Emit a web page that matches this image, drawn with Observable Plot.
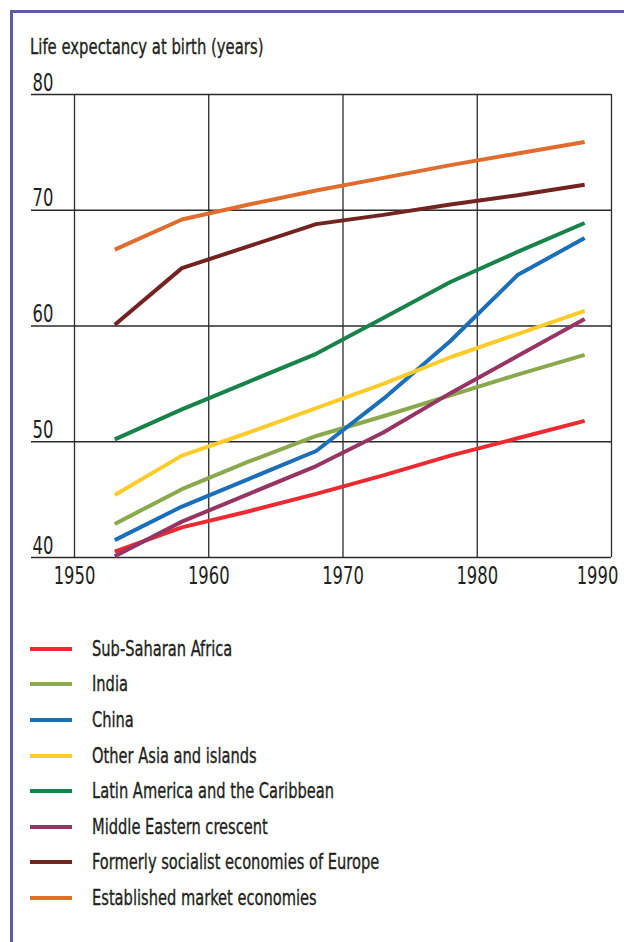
<!DOCTYPE html>
<html><head><meta charset="utf-8">
<script src="https://cdn.jsdelivr.net/npm/d3@7"></script>
<script src="https://cdn.jsdelivr.net/npm/@observablehq/plot@0.6"></script>
<style>
body{margin:0;background:#fff;}
#page{position:relative;width:624px;height:942px;overflow:hidden;font-family:"Liberation Sans Narrow","DejaVu Sans Condensed",sans-serif;color:#231f20;}
#frame{position:absolute;left:10px;top:10px;right:-5px;bottom:-5px;border-top:3px solid #5b5ba9;border-left:3px solid #5b5ba9;}
#title{position:absolute;left:30px;top:34px;font-size:22px;line-height:26px;white-space:nowrap;transform:scaleX(0.75);transform-origin:left center;-webkit-text-stroke:0.35px #231f20;}
#chart{position:absolute;left:0;top:60px;}
#legend{position:absolute;left:30px;top:631px;}
.row{display:flex;align-items:center;height:35.6px;}
.sw{width:42px;height:4px;margin-right:20px;flex:none;}
.lab{font-size:22px;line-height:26px;white-space:nowrap;transform:scaleX(0.74);transform-origin:left center;-webkit-text-stroke:0.35px #231f20;}
</style>
</head><body>
<div id="page">
  <div id="frame"></div>
  <div id="title">Life expectancy at birth (years)</div>
  <div id="chart"></div>
  <div id="legend"></div>
</div>
<script>
const years = [1953, 1958, 1963, 1968, 1973, 1978, 1983, 1988];
const seriesNames = [
  "Sub-Saharan Africa",
  "India",
  "China",
  "Other Asia and islands",
  "Latin America and the Caribbean",
  "Middle Eastern crescent",
  "Formerly socialist economies of Europe",
  "Established market economies"
];
const seriesColors = ["#ed2a2f", "#8aa84c", "#1a6fb8", "#fdcb2a", "#17834a", "#963464", "#732421", "#e06c2e"];
const subSaharanAfrica = [40.5, 42.6, 44.0, 45.5, 47.1, 48.8, 50.3, 51.8];
const india = [42.9, 45.9, 48.3, 50.5, 52.2, 54.0, 55.8, 57.5];
const china = [41.5, 44.4, 46.8, 49.2, 53.7, 58.7, 64.4, 67.6];
const otherAsia = [45.4, 48.8, 50.8, 52.9, 55.0, 57.3, 59.3, 61.3];
const latinAmerica = [50.2, 52.8, 55.2, 57.6, 60.7, 63.8, 66.4, 68.9];
const middleEast = [40.1, 43.1, 45.5, 47.9, 50.8, 54.2, 57.4, 60.6];
const formerSocialist = [60.1, 65.0, 66.9, 68.8, 69.6, 70.5, 71.3, 72.2];
const establishedMarket = [66.6, 69.2, 70.5, 71.7, 72.8, 73.9, 74.9, 75.9];
const xTicks = [1950, 1960, 1970, 1980, 1990];
const yTicks = [40, 50, 60, 70, 80];

const seriesValues = [subSaharanAfrica, india, china, otherAsia, latinAmerica, middleEast, formerSocialist, establishedMarket];
const rows = [];
seriesNames.forEach((name, i) => {
  years.forEach((yr, j) => rows.push({series: name, year: yr, value: seriesValues[i][j]}));
});

const font = '"Liberation Sans Narrow","DejaVu Sans Condensed",sans-serif';
const lastTick = xTicks[xTicks.length - 1];
const textStyle = {fontSize: 24, label: null, fill: "#231f20", stroke: "#231f20", strokeWidth: 0.4};
const chart = Plot.plot({
  width: 624,
  height: 540,
  marginTop: 34,
  marginBottom: 43,
  marginLeft: 74,
  marginRight: 13,
  style: {fontFamily: font, color: "#231f20", background: "transparent", overflow: "visible"},
  x: {domain: [1950, 1990]},
  y: {domain: [40, 80]},
  color: {domain: seriesNames, range: seriesColors},
  marks: [
    Plot.ruleX(xTicks, {stroke: "#2a2a2a", strokeWidth: 1.3}),
    Plot.ruleY(yTicks, {stroke: "#2a2a2a", strokeWidth: 1.6, insetLeft: -43}),
    Plot.axisX(xTicks.filter(d => d !== lastTick), {...textStyle, tickSize: 0, tickPadding: 9, tickFormat: d => String(d)}),
    Plot.axisX([lastTick], {...textStyle, tickSize: 0, tickPadding: 9, tickFormat: d => String(d), dx: -14}),
    Plot.axisY(yTicks, {...textStyle, tickSize: 0, tickPadding: 0, textAnchor: "start", dx: -42, dy: -4, lineAnchor: "bottom"}),
    Plot.line(rows, {x: "year", y: "value", z: "series", stroke: "series", strokeWidth: 4, strokeLinecap: "butt", strokeLinejoin: "miter"})
  ]
});
document.getElementById("chart").appendChild(chart);

// condense the SVG text horizontally to mimic the narrow typeface, keeping each label's anchor in place
const K = 0.76;
chart.querySelectorAll("text").forEach(t => {
  const r0 = t.getBoundingClientRect();
  const anchor = getComputedStyle(t).textAnchor || t.getAttribute("text-anchor") || "start";
  const tr = t.getAttribute("transform") || "";
  t.setAttribute("transform", `${tr} scale(${K},1)`);
  const r1 = t.getBoundingClientRect();
  let shift;
  if (anchor === "middle") shift = (r0.left + r0.right) / 2 - (r1.left + r1.right) / 2;
  else if (anchor === "end") shift = r0.right - r1.right;
  else shift = r0.left - r1.left;
  t.setAttribute("transform", `translate(${shift},0) ${tr} scale(${K},1)`);
});

const legend = document.getElementById("legend");
seriesNames.forEach((name, i) => {
  const row = document.createElement("div");
  row.className = "row";
  const sw = document.createElement("div");
  sw.className = "sw";
  sw.style.background = seriesColors[i];
  const lab = document.createElement("div");
  lab.className = "lab";
  lab.textContent = name;
  row.appendChild(sw);
  row.appendChild(lab);
  legend.appendChild(row);
});
</script>
</body></html>
